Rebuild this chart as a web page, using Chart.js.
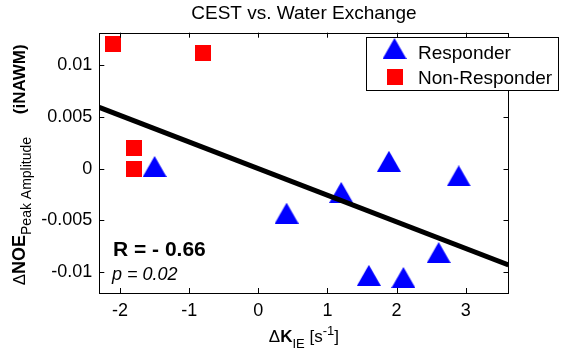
<!DOCTYPE html>
<html>
<head>
<meta charset="utf-8">
<script src="https://cdn.jsdelivr.net/npm/chart.js@4.4.0/dist/chart.umd.min.js"></script>
<style>
  html, body { margin: 0; padding: 0; background: #fff; }
  #wrap { width: 562px; height: 356px; }
</style>
</head>
<body>
<div id="wrap"><canvas id="chart" width="562" height="356"></canvas></div>
<script>
// values
const responderX = [-1.50, 0.41, 1.20, 1.89, 2.90, 2.61, 1.60, 2.10];
const responderY = [0.0002, -0.0043, -0.0023, 0.0007, -0.0007, -0.0081, -0.0103, -0.0105];
const nonResponderX = [-2.10, -0.80, -1.80, -1.80];
const nonResponderY = [0.0120, 0.0111, 0.0020, 0.0000];
const fitX = [-2.3, 3.62];
const fitY = [0.0059, -0.0093];
const xTicks = [-2, -1, 0, 1, 2, 3];
const yTicks = [-0.01, -0.005, 0, 0.005, 0.01];
const xLimits = [-2.3, 3.62];
const yLimits = [-0.012, 0.0131];

const FONT = 'Liberation Sans, Arial, sans-serif';

// marker images (centred on their bounding box like matlab markers)
function triangleMarker(w, h, color) {
    const c = document.createElement('canvas');
    c.width = w; c.height = h;
    const g = c.getContext('2d');
    g.fillStyle = color;
    g.beginPath();
    g.moveTo(w / 2, 0);
    g.lineTo(w, h);
    g.lineTo(0, h);
    g.closePath();
    g.fill();
    return c;
}
function squareMarker(s, color) {
    const c = document.createElement('canvas');
    c.width = s; c.height = s;
    const g = c.getContext('2d');
    g.fillStyle = color;
    g.fillRect(0, 0, s, s);
    return c;
}
const triImg = triangleMarker(24, 21, '#0000ff');
const sqImg = squareMarker(16, '#ff0000');

function toPoints(xs, ys) {
    return xs.map((x, i) => ({ x: x, y: ys[i] }));
}

// draws a row of text pieces (for sub/superscripts), centred on x
function drawPieces(ctx, pieces, cx, baseY) {
    let total = 0;
    pieces.forEach(p => { ctx.font = p.font; p.w = ctx.measureText(p.t).width; total += p.w + (p.gap || 0); });
    let x = cx - total / 2;
    ctx.textAlign = 'left';
    ctx.textBaseline = 'alphabetic';
    pieces.forEach(p => {
        x += (p.gap || 0);
        ctx.font = p.font;
        ctx.fillText(p.t, x, baseY + (p.dy || 0));
        x += p.w;
    });
}

const decorations = {
    id: 'decorations',
    afterDraw(chart) {
        const ctx = chart.ctx;
        const a = chart.chartArea;
        const xs = chart.scales.x, ys = chart.scales.y;
        ctx.save();
        ctx.strokeStyle = '#000';
        ctx.lineWidth = 1;
        // axes box
        ctx.strokeRect(Math.round(a.left) + 0.5, Math.round(a.top) + 0.5,
            Math.round(a.right - a.left), Math.round(a.bottom - a.top));
        // inward ticks on all sides
        const tl = 5;
        ctx.beginPath();
        xTicks.forEach(v => {
            const px = Math.round(xs.getPixelForValue(v)) + 0.5;
            ctx.moveTo(px, a.bottom); ctx.lineTo(px, a.bottom - tl);
            ctx.moveTo(px, a.top); ctx.lineTo(px, a.top + tl);
        });
        yTicks.forEach(v => {
            const py = Math.round(ys.getPixelForValue(v)) + 0.5;
            ctx.moveTo(a.left, py); ctx.lineTo(a.left + tl, py);
            ctx.moveTo(a.right, py); ctx.lineTo(a.right - tl, py);
        });
        ctx.stroke();

        ctx.fillStyle = '#000';
        // title
        ctx.font = '19px ' + FONT;
        ctx.textAlign = 'center';
        ctx.textBaseline = 'alphabetic';
        ctx.fillText('CEST vs. Water Exchange', (a.left + a.right) / 2, 18.5);

        // x axis label
        drawPieces(ctx, [
            { t: '\u0394', font: '17px ' + FONT },
            { t: 'K', font: 'bold 17px ' + FONT },
            { t: 'IE', font: '13px ' + FONT, dy: 6 },
            { t: ' [s', font: '17px ' + FONT },
            { t: '-1', font: '13px ' + FONT, dy: -7 },
            { t: ']', font: '17px ' + FONT }
        ], (a.left + a.right) / 2, 341.5);

        // y axis label, rotated
        ctx.save();
        ctx.translate(25, (a.top + a.bottom) / 2 + 2);
        ctx.rotate(-Math.PI / 2);
        drawPieces(ctx, [
            { t: '\u0394', font: '17px ' + FONT },
            { t: 'NOE', font: 'bold 18px ' + FONT },
            { t: 'Peak Amplitude', font: '14px ' + FONT, dy: 6 },
            { t: ' (iNAWM)', font: 'bold 17px ' + FONT, gap: 18 }
        ], 0, 0);
        ctx.restore();

        // stats text
        ctx.textAlign = 'left';
        ctx.font = 'bold 21px ' + FONT;
        ctx.fillText('R = - 0.66', 113, 256);
        ctx.font = 'italic 18px ' + FONT;
        ctx.fillText('p = 0.02', 112, 279.5);

        // legend
        ctx.fillStyle = '#fff';
        ctx.fillRect(366.5, 37.5, 192, 53);
        ctx.strokeRect(366.5, 37.5, 192, 53);
        ctx.drawImage(triImg, 394.5 - triImg.width / 2, 48.5 - triImg.height / 2);
        ctx.drawImage(sqImg, 394.5 - sqImg.width / 2, 76.5 - sqImg.height / 2);
        ctx.fillStyle = '#000';
        ctx.font = '19px ' + FONT;
        ctx.fillText('Responder', 418, 59);
        ctx.fillText('Non-Responder', 418, 84);
        ctx.restore();
    }
};

const ctx = document.getElementById('chart').getContext('2d');
new Chart(ctx, {
    type: 'scatter',
    data: {
        datasets: [
            {
                label: 'Fit',
                type: 'line',
                data: toPoints(fitX, fitY),
                borderColor: '#000',
                borderWidth: 5,
                pointRadius: 0,
                fill: false,
                order: 0
            },
            {
                label: 'Responder',
                data: toPoints(responderX, responderY),
                pointStyle: triImg,
                backgroundColor: '#0000ff',
                order: 1
            },
            {
                label: 'Non-Responder',
                data: toPoints(nonResponderX, nonResponderY),
                pointStyle: sqImg,
                backgroundColor: '#ff0000',
                order: 2
            }
        ]
    },
    options: {
        responsive: false,
        animation: false,
        events: [],
        layout: { padding: { left: 0, right: 53.5, top: 32.7, bottom: 0 } },
        plugins: {
            legend: { display: false },
            tooltip: { enabled: false },
            title: { display: false }
        },
        scales: {
            x: {
                type: 'linear',
                min: xLimits[0],
                max: xLimits[1],
                afterBuildTicks: s => { s.ticks = xTicks.map(v => ({ value: v })); },
                afterFit: s => { s.height = 63; },
                grid: { display: false, drawTicks: false },
                border: { display: false },
                ticks: { color: '#000', font: { family: FONT, size: 18 }, padding: 7, callback: v => String(v) }
            },
            y: {
                type: 'linear',
                min: yLimits[0],
                max: yLimits[1],
                afterBuildTicks: s => { s.ticks = yTicks.map(v => ({ value: v })); },
                afterFit: s => { s.width = 99.3; },
                grid: { display: false, drawTicks: false },
                border: { display: false },
                ticks: { color: '#000', font: { family: FONT, size: 18 }, padding: 7, callback: v => String(v) }
            }
        }
    },
    plugins: [decorations]
});
</script>
</body>
</html>
